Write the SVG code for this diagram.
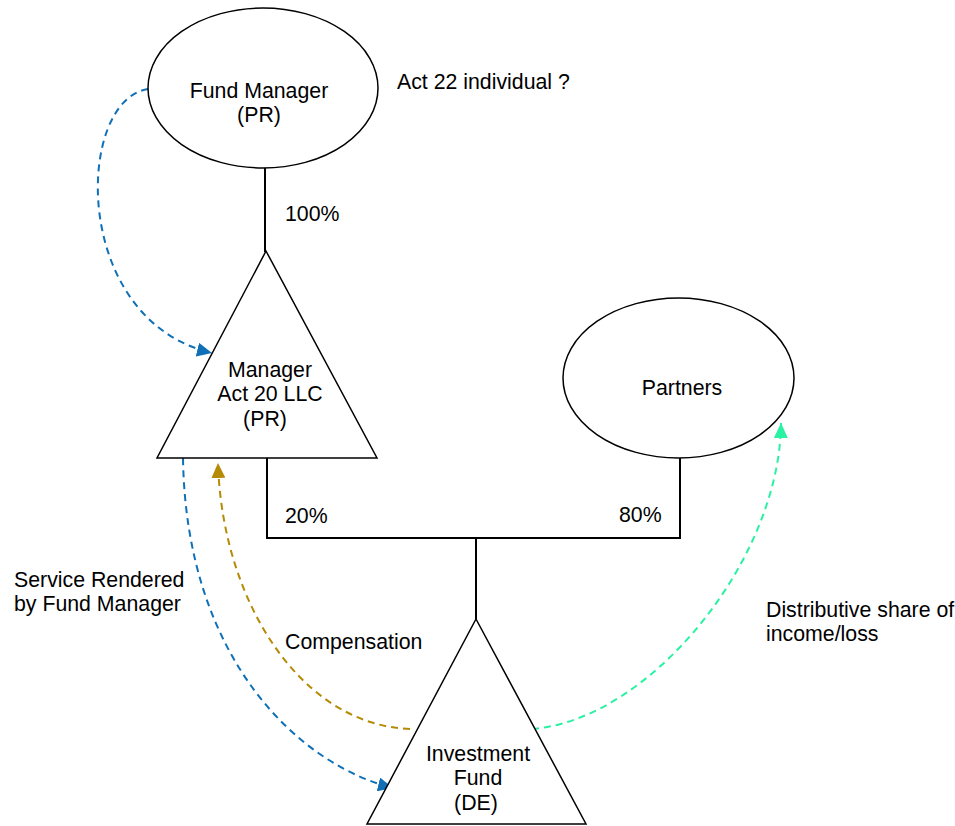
<svg xmlns="http://www.w3.org/2000/svg" width="955" height="826" viewBox="0 0 955 826">
  <defs>
    <style>
      .shape { fill: #ffffff; stroke: #000000; stroke-width: 1.5; }
      .link { fill: none; stroke: #000000; stroke-width: 2; }
      .flow { fill: none; stroke-width: 2; stroke-dasharray: 7 5; }
      .lbl { font-family: "Liberation Sans", Arial, sans-serif; font-size: 21.3px; fill: #000000; }
      .mid { text-anchor: middle; }
    </style>
    <marker id="arrBlue" markerUnits="userSpaceOnUse" markerWidth="16" markerHeight="14" refX="15" refY="7" orient="auto">
      <path d="M0,0 L15,7 L0,14 z" fill="#0F70B7"/>
    </marker>
    <marker id="arrGold" markerUnits="userSpaceOnUse" markerWidth="16" markerHeight="14" refX="15" refY="7" orient="auto">
      <path d="M0,0 L15,7 L0,14 z" fill="#B58A05"/>
    </marker>
    <marker id="arrGreen" markerUnits="userSpaceOnUse" markerWidth="16" markerHeight="14" refX="15" refY="7" orient="auto">
      <path d="M0,0 L15,7 L0,14 z" fill="#2AF2A2"/>
    </marker>
  </defs>

  <rect width="955" height="826" fill="#ffffff"/>

  <!-- ownership lines -->
  <g id="connectors">
    <path class="link" d="M265,168 V252"/>
    <path class="link" d="M267,458 V538 H680 V458"/>
    <path class="link" d="M476,538 V619"/>

    <!-- flows -->
    <path class="flow" stroke="#0F70B7" d="M148,89 C75,100 70,320 212,353" marker-end="url(#arrBlue)"/>
    <path class="flow" stroke="#0F70B7" d="M183,458 C186,660 300,765 393,788" marker-end="url(#arrBlue)"/>
    <path class="flow" stroke="#B58A05" d="M410,729 C300,725 222,600 218,463" marker-end="url(#arrGold)"/>
    <path class="flow" stroke="#2AF2A2" d="M532,729 C650,720 780,560 781,423" marker-end="url(#arrGreen)"/>
  </g>

  <g id="fund-manager">
    <ellipse class="shape" cx="263" cy="88" rx="115" ry="80"/>
    <text class="lbl mid" x="259" y="98">Fund Manager</text>
    <text class="lbl mid" x="259" y="122">(PR)</text>
  </g>

  <g id="manager-llc">
    <polygon class="shape" points="266,251 377,458 157,458"/>
    <text class="lbl mid" x="270" y="377">Manager</text>
    <text class="lbl mid" x="270" y="401">Act 20 LLC</text>
    <text class="lbl mid" x="265" y="426">(PR)</text>
  </g>

  <g id="partners">
    <ellipse class="shape" cx="678.5" cy="378" rx="115.5" ry="80"/>
    <text class="lbl mid" x="682" y="395">Partners</text>
  </g>

  <g id="investment-fund">
    <polygon class="shape" points="476,619 586,824 367,824"/>
    <text class="lbl mid" x="478" y="761">Investment</text>
    <text class="lbl mid" x="478" y="785">Fund</text>
    <text class="lbl mid" x="476" y="810">(DE)</text>
  </g>

  <!-- free labels -->
  <g id="labels">
    <text class="lbl" x="397" y="89">Act 22 individual ?</text>
    <text class="lbl" x="285" y="221">100%</text>
    <text class="lbl" x="285" y="523">20%</text>
    <text class="lbl" x="619" y="522">80%</text>
    <text class="lbl" x="14" y="587">Service Rendered</text>
    <text class="lbl" x="14" y="611">by Fund Manager</text>
    <text class="lbl" x="285" y="649">Compensation</text>
    <text class="lbl" x="766" y="617">Distributive share of</text>
    <text class="lbl" x="766" y="641">income/loss</text>
  </g>
</svg>
